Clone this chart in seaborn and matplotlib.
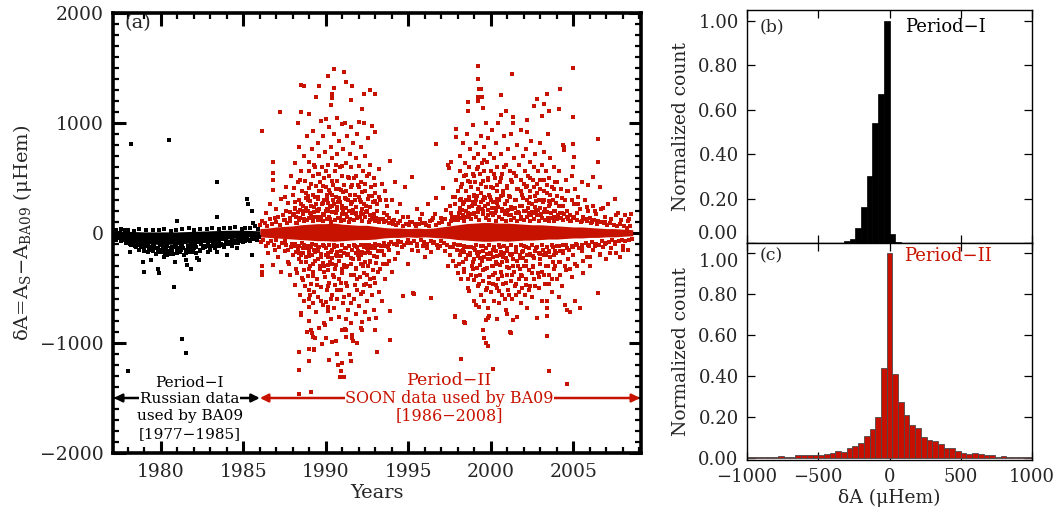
import numpy as np
import pandas as pd
import matplotlib
matplotlib.use("Agg")
import matplotlib.pyplot as plt
from matplotlib.ticker import MultipleLocator
import seaborn as sns

# ---------------- data ----------------
RED = "#c81200"

# Period I (Russian data, black) - scattered points
period1_points = [
    (1978.2, 806), (1980.5, 845), (1983.4, 461), (1983.4, 148), (1985.2, 309), (1981.0, 110),
    (1985.3, 265), (1985.5, 197), (1985.6, 90), (1980.8, -488), (1981.3, -960), (1981.5, -1090),
    (1979.0, -355), (1978.0, -1250), (1978.1, -170), (1978.9, -260), (1979.4, -245), (1979.85, -330),
    (1979.9, -360), (1980.2, -220), (1980.85, -260), (1981.55, -245), (1981.6, -290), (1981.8, -330),
    (1982.2, -230), (1982.3, -245), (1983.4, -170), (1984.0, -200), (1984.6, -140), (1985.5, -200),
    (1977.2, -40), (1977.3, -60), (1977.45, -30), (1977.6, -70), (1977.75, -50), (1977.9, -90),
    (1978.05, -60), (1978.2, -110), (1978.35, -80), (1978.5, -130), (1978.6, -100), (1978.7, -150),
    (1978.85, -120), (1979.0, -140), (1979.1, -100), (1979.2, -170), (1979.35, -130), (1979.5, -160),
    (1979.6, -120), (1979.7, -190), (1979.8, -140), (1980.0, -170), (1980.1, -130), (1980.3, -150),
    (1980.4, -200), (1980.5, -190), (1980.6, -140), (1980.7, -160), (1980.9, -130), (1981.0, -180),
    (1981.1, -140), (1981.2, -150), (1981.3, -120), (1981.4, -200), (1981.5, -150), (1981.7, -170),
    (1981.85, -130), (1982.0, -140), (1982.1, -180), (1982.4, -160), (1982.55, -120), (1982.7, -130),
    (1982.85, -170), (1983.0, -120), (1983.15, -100), (1983.3, -140), (1983.45, -90), (1983.6, -110),
    (1983.8, -130), (1984.0, -100), (1984.15, -80), (1984.3, -120), (1984.5, -70), (1984.7, -90),
    (1984.85, -60), (1985.0, -80), (1985.2, -50), (1985.4, -70), (1985.6, -40), (1985.8, -60),
    (1977.3, 30), (1977.8, 25), (1978.4, 20), (1979.1, 30), (1979.9, 25), (1980.6, 20), (1981.3, 35),
    (1982.0, 30), (1982.8, 35), (1983.5, 40), (1984.2, 45), (1984.9, 40), (1985.4, 50), (1985.9, 40),
]

period1_speckle = [
    (1977.15, -20), (1977.25, -50), (1977.35, -10), (1977.5, -45), (1977.55, 0), (1977.65, -55),
    (1977.7, -20), (1977.85, -65), (1977.95, -30), (1978.0, -80), (1978.1, -40), (1978.15, -100),
    (1978.25, -60), (1978.3, -90), (1978.4, -30), (1978.45, -120), (1978.55, -70), (1978.65, -110),
    (1978.75, -40), (1978.8, -130), (1978.9, -80), (1978.95, -160), (1979.05, -50), (1979.15, -120),
    (1979.25, -90), (1979.3, -150), (1979.4, -60), (1979.45, -130), (1979.55, -100), (1979.65, -140),
    (1979.75, -70), (1979.85, -170), (1979.95, -110), (1980.05, -150), (1980.15, -80), (1980.25, -180),
    (1980.35, -120), (1980.45, -160), (1980.55, -70), (1980.65, -130), (1980.75, -190), (1980.85, -100),
    (1980.95, -150), (1981.05, -90), (1981.15, -170), (1981.25, -110), (1981.35, -140), (1981.45, -80),
    (1981.55, -180), (1981.65, -120), (1981.75, -150), (1981.85, -90), (1981.95, -170), (1982.05, -110),
    (1982.15, -130), (1982.25, -80), (1982.35, -150), (1982.45, -100), (1982.55, -140), (1982.65, -70),
    (1982.75, -120), (1982.85, -100), (1982.95, -150), (1983.05, -70), (1983.1, -120), (1983.2, -90),
    (1983.3, -110), (1983.4, -60), (1983.5, -120), (1983.55, -80), (1983.65, -100), (1983.75, -50),
    (1983.85, -110), (1983.95, -70), (1984.05, -90), (1984.1, -40), (1984.2, -100), (1984.3, -60),
    (1984.4, -80), (1984.45, -30), (1984.55, -90), (1984.65, -50), (1984.75, -70), (1984.8, -20),
    (1984.9, -60), (1985.05, -40), (1985.1, -70), (1985.25, -30), (1985.35, -60), (1985.45, -20),
    (1985.55, -50), (1985.7, -30), (1985.75, -50), (1985.9, -20), (1985.95, -40),
    (1977.6, 40), (1978.0, 30), (1978.7, 35), (1979.5, 30), (1980.2, 40), (1980.9, 30), (1981.7, 45),
    (1982.4, 40), (1983.1, 50), (1983.8, 45), (1984.5, 55), (1985.1, 50), (1985.7, 60),
]

# Period I dense core envelope
core1_years = [1977.1, 1978.0, 1979.0, 1980.0, 1981.0, 1982.0, 1983.0, 1984.0, 1985.0, 1986.0]
core1_lo = [-40, -70, -95, -105, -100, -90, -75, -55, -40, -25]
core1_hi = [20, 15, 10, 10, 10, 15, 20, 25, 25, 20]

# Period II (SOON data, red)
cycle22_pos = [
    (1986.1, 930), (1987.2, 1100), (1986.8, 650), (1986.8, 550), (1986.8, 480), (1986.8, 395),
    (1986.4, 180), (1986.6, 260), (1986.9, 140), (1987.0, 220), (1987.3, 310), (1987.4, 160),
    (1987.6, 420), (1987.7, 270), (1987.8, 190), (1987.9, 520), (1988.0, 350), (1988.1, 230),
    (1988.1, 640), (1988.2, 150), (1988.3, 1000), (1988.3, 460), (1988.35, 300), (1988.4, 780),
    (1988.45, 210), (1988.5, 1350), (1988.5, 1100), (1988.5, 560), (1988.55, 380), (1988.6, 250),
    (1988.65, 130), (1988.7, 1340), (1988.7, 700), (1988.75, 470), (1988.8, 320), (1988.85, 880),
    (1988.9, 200), (1988.95, 560), (1989.0, 1085), (1989.0, 650), (1989.0, 410), (1989.05, 290),
    (1989.1, 170), (1989.15, 760), (1989.2, 520), (1989.2, 350), (1989.25, 930), (1989.3, 240),
    (1989.35, 600), (1989.4, 1236), (1989.4, 430), (1989.45, 150), (1989.5, 820), (1989.5, 310),
    (1989.55, 540), (1989.6, 1336), (1989.6, 700), (1989.6, 220), (1989.65, 460), (1989.7, 1020),
    (1989.7, 380), (1989.75, 600), (1989.8, 270), (1989.85, 880), (1989.9, 500), (1989.9, 160),
    (1989.95, 740), (1990.0, 1040), (1990.0, 420), (1990.05, 310), (1990.1, 1430), (1990.1, 620),
    (1990.15, 200), (1990.2, 960), (1990.2, 520), (1990.25, 360), (1990.3, 1166), (1990.3, 780),
    (1990.35, 250), (1990.4, 1266), (1990.4, 1227), (1990.4, 680), (1990.45, 440), (1990.5, 1490),
    (1990.5, 1318), (1990.5, 900), (1990.55, 560), (1990.6, 330), (1990.6, 180), (1990.65, 1050),
    (1990.7, 720), (1990.7, 470), (1990.75, 280), (1990.8, 840), (1990.85, 600), (1990.9, 390),
    (1990.95, 990), (1991.0, 520), (1991.0, 230), (1991.05, 760), (1991.1, 1467), (1991.1, 440),
    (1991.15, 1000), (1991.2, 640), (1991.25, 1370), (1991.25, 310), (1991.3, 880), (1991.35, 510),
    (1991.4, 200), (1991.45, 720), (1991.5, 1206), (1991.5, 960), (1991.5, 420), (1991.55, 600),
    (1991.6, 1340), (1991.6, 280), (1991.65, 820), (1991.7, 500), (1991.75, 350), (1991.8, 680),
    (1991.85, 170), (1991.9, 900), (1991.95, 440), (1992.0, 1012), (1992.0, 610), (1992.05, 300),
    (1992.1, 780), (1992.15, 460), (1992.2, 1127), (1992.2, 220), (1992.25, 560), (1992.3, 1260),
    (1992.3, 1000), (1992.35, 380), (1992.4, 700), (1992.45, 250), (1992.5, 520), (1992.55, 860),
    (1992.6, 340), (1992.65, 160), (1992.7, 1300), (1992.7, 620), (1992.75, 420), (1992.8, 970),
    (1992.85, 280), (1992.9, 500), (1992.95, 920), (1993.0, 1263), (1993.0, 360), (1993.1, 200),
    (1993.2, 580), (1993.3, 300), (1993.4, 450), (1993.5, 180), (1993.6, 380), (1993.7, 250),
    (1993.8, 140), (1993.9, 657), (1994.0, 300), (1994.2, 467), (1994.3, 190), (1994.5, 260),
    (1994.8, 421), (1995.0, 150), (1995.2, 512), (1995.5, 220), (1995.8, 170), (1996.2, 260),
    (1996.7, 810), (1996.7, 318), (1996.5, 140),
    (1987.5, 120), (1987.6, 200), (1987.8, 110), (1988.0, 160), (1988.1, 280), (1988.2, 90),
    (1988.3, 190), (1988.4, 120), (1988.5, 260), (1988.6, 170), (1988.7, 110), (1988.8, 230),
    (1988.9, 340), (1989.0, 140), (1989.1, 250), (1989.2, 110), (1989.3, 190), (1989.35, 330),
    (1989.4, 260), (1989.5, 120), (1989.55, 200), (1989.6, 380), (1989.7, 150), (1989.75, 260),
    (1989.8, 110), (1989.9, 300), (1990.0, 200), (1990.05, 130), (1990.1, 270), (1990.2, 150),
    (1990.25, 240), (1990.3, 100), (1990.35, 350), (1990.4, 190), (1990.5, 260), (1990.55, 120),
    (1990.6, 400), (1990.7, 210), (1990.75, 140), (1990.8, 320), (1990.9, 110), (1990.95, 250),
    (1991.0, 170), (1991.05, 370), (1991.1, 120), (1991.2, 230), (1991.3, 150), (1991.35, 300),
    (1991.4, 100), (1991.5, 260), (1991.6, 180), (1991.7, 120), (1991.8, 240), (1991.9, 140),
    (1992.0, 330), (1992.1, 180), (1992.2, 110), (1992.3, 260), (1992.4, 150), (1992.5, 200),
    (1992.6, 100), (1992.7, 240), (1992.8, 130), (1992.9, 170), (1993.0, 110), (1993.1, 260),
    (1993.3, 130), (1993.5, 100), (1993.7, 160), (1994.0, 110),
]

cycle22_neg = [
    (1986.1, -300), (1986.1, -355), (1986.1, -385), (1986.8, -294), (1987.3, -355), (1987.8, -385),
    (1988.1, -476), (1986.5, -180), (1986.9, -150), (1987.1, -220), (1987.5, -160), (1987.7, -260),
    (1988.0, -200), (1988.2, -330), (1988.3, -150), (1988.4, -1079), (1988.4, -1245), (1988.4, -1464),
    (1988.45, -560), (1988.5, -745), (1988.5, -730), (1988.5, -260), (1988.55, -410), (1988.6, -180),
    (1988.65, -620), (1988.7, -340), (1988.75, -480), (1988.8, -220), (1988.85, -900), (1988.9, -390),
    (1988.95, -150), (1989.0, -1052), (1989.0, -1167), (1989.0, -797), (1989.0, -670), (1989.0, -597),
    (1989.05, -567), (1989.05, -300), (1989.1, -1442), (1989.1, -882), (1989.1, -460), (1989.15, -912),
    (1989.15, -200), (1989.2, -942), (1989.2, -640), (1989.25, -350), (1989.3, -1052), (1989.3, -1064),
    (1989.3, -540), (1989.35, -955), (1989.35, -250), (1989.4, -720), (1989.45, -420), (1989.5, -160),
    (1989.55, -580), (1989.6, -860), (1989.65, -330), (1989.7, -490), (1989.75, -1010), (1989.8, -270),
    (1989.85, -650), (1989.9, -818), (1989.95, -833), (1989.95, -400), (1990.0, -955), (1990.0, -630),
    (1990.0, -200), (1990.05, -520), (1990.1, -706), (1990.1, -340), (1990.15, -676), (1990.2, -1150),
    (1990.2, -450), (1990.25, -260), (1990.3, -780), (1990.35, -560), (1990.4, -990), (1990.4, -150),
    (1990.45, -380), (1990.5, -680), (1990.55, -470), (1990.6, -985), (1990.6, -290), (1990.65, -1100),
    (1990.7, -600), (1990.7, -210), (1990.75, -1200), (1990.8, -760), (1990.8, -420), (1990.85, -1306),
    (1990.9, -1250), (1990.9, -520), (1990.95, -330), (1991.0, -1180), (1991.0, -880), (1991.05, -640),
    (1991.1, -1306), (1991.1, -180), (1991.15, -870), (1991.2, -779), (1991.2, -882), (1991.2, -450),
    (1991.25, -942), (1991.3, -300), (1991.35, -700), (1991.4, -560), (1991.45, -1097), (1991.5, -1160),
    (1991.5, -380), (1991.55, -820), (1991.6, -927), (1991.6, -958), (1991.62, -985), (1991.65, -240),
    (1991.7, -600), (1991.75, -470), (1991.8, -740), (1991.85, -330), (1991.9, -1000), (1991.9, -520),
    (1991.95, -200), (1992.0, -660), (1992.05, -400), (1992.1, -860), (1992.15, -280), (1992.2, -806),
    (1992.2, -882), (1992.25, -540), (1992.3, -360), (1992.35, -720), (1992.4, -180), (1992.45, -460),
    (1992.5, -620), (1992.55, -300), (1992.6, -780), (1992.65, -420), (1992.7, -250), (1992.8, -560),
    (1992.85, -340), (1992.9, -700), (1993.0, -882), (1993.0, -450), (1993.05, -773), (1993.1, -1079),
    (1993.1, -220), (1993.2, -540), (1993.3, -330), (1993.4, -620), (1993.5, -200), (1993.6, -420),
    (1993.7, -280), (1993.8, -150), (1993.9, -709), (1993.9, -970), (1994.0, -350), (1994.2, -240),
    (1994.4, -180), (1994.7, -576), (1995.0, -280), (1995.3, -542), (1995.35, -558), (1995.6, -160),
    (1996.0, -220), (1996.4, -594), (1996.4, -173), (1996.8, -140),
    (1987.6, -110), (1987.9, -130), (1988.1, -100), (1988.2, -170), (1988.4, -120), (1988.5, -200),
    (1988.6, -140), (1988.7, -110), (1988.8, -260), (1988.9, -120), (1989.0, -180), (1989.1, -130),
    (1989.2, -280), (1989.3, -150), (1989.4, -110), (1989.5, -240), (1989.6, -130), (1989.7, -190),
    (1989.8, -110), (1989.9, -300), (1990.0, -140), (1990.1, -220), (1990.2, -110), (1990.3, -170),
    (1990.4, -280), (1990.5, -130), (1990.6, -200), (1990.7, -120), (1990.8, -250), (1990.9, -160),
    (1991.0, -110), (1991.1, -290), (1991.2, -140), (1991.3, -200), (1991.4, -120), (1991.5, -230),
    (1991.6, -150), (1991.7, -110), (1991.8, -180), (1991.9, -130), (1992.0, -240), (1992.1, -110),
    (1992.2, -170), (1992.3, -130), (1992.4, -260), (1992.5, -140), (1992.6, -110), (1992.7, -180),
    (1992.8, -120), (1992.9, -210), (1993.0, -140), (1993.2, -110), (1993.4, -160), (1993.6, -120),
    (1993.8, -100),
]

mid22 = [
    (1987.55, 330), (1987.75, -280), (1988.05, 410), (1988.25, -360), (1988.45, 480), (1988.6, -430),
    (1988.8, 360), (1988.95, -520), (1989.1, 450), (1989.2, -390), (1989.3, 620), (1989.45, -470),
    (1989.6, 540), (1989.7, -620), (1989.8, 430), (1989.9, -350), (1990.0, 560), (1990.1, -480),
    (1990.2, 390), (1990.3, -600), (1990.4, 470), (1990.5, -400), (1990.6, 620), (1990.7, -520),
    (1990.8, 400), (1990.9, -450), (1991.0, 610), (1991.1, -580), (1991.2, 380), (1991.3, -480),
    (1991.4, 500), (1991.5, -640), (1991.6, 440), (1991.7, -380), (1991.8, 520), (1991.9, -420),
    (1992.0, 420), (1992.1, -550), (1992.2, 370), (1992.3, -470), (1992.4, 450), (1992.5, -380),
    (1992.6, 540), (1992.7, -480), (1992.8, 340), (1992.9, -410), (1993.0, 440), (1993.15, -350),
    (1993.25, 330), (1993.45, -280), (1993.65, 300), (1993.85, -250),
    (1988.15, 220), (1988.35, -240), (1988.9, 300), (1989.0, -330), (1989.55, 330), (1989.65, -300),
    (1990.05, 350), (1990.15, -290), (1990.45, 300), (1990.55, -330), (1990.85, 280), (1990.95, -360),
    (1991.15, 320), (1991.25, -310), (1991.45, 350), (1991.55, -280), (1991.75, 300), (1991.85, -320),
    (1992.15, 280), (1992.25, -300), (1992.55, 310), (1992.65, -260), (1992.95, 290), (1993.05, -270),
]

minimum_points = [
    (1994.1, 120), (1994.3, -110), (1994.4, 90), (1994.6, -130), (1994.7, 150), (1994.9, -90),
    (1995.1, 100), (1995.2, -150), (1995.4, 80), (1995.5, -100), (1995.7, 130), (1995.9, -120),
    (1996.0, 90), (1996.1, -140), (1996.3, 110), (1996.5, -90), (1996.6, 170), (1996.9, -120),
    (1997.0, 140), (1997.1, 406), (1997.2, -160), (1997.3, 210), (1997.4, 620), (1997.45, 591),
    (1997.6, 645), (1997.4, -300), (1997.5, -200), (1997.5, 250), (1997.7, -130), (1997.8, -767),
    (1997.85, -755), (1997.9, 945), (1997.9, 870),
]

cycle23_pos = [
    (1997.6, 180), (1997.7, 330), (1997.8, 260), (1997.9, 480), (1998.0, 150), (1998.0, 380),
    (1998.1, 560), (1998.1, 230), (1998.15, 700), (1998.2, 310), (1998.25, 450), (1998.3, 160),
    (1998.3, 820), (1998.35, 520), (1998.4, 280), (1998.45, 640), (1998.5, 380), (1998.5, 200),
    (1998.55, 900), (1998.6, 1188), (1998.6, 1112), (1998.6, 470), (1998.65, 300), (1998.7, 600),
    (1998.7, 150), (1998.75, 760), (1998.8, 420), (1998.85, 250), (1998.9, 540), (1998.9, 980),
    (1998.95, 340), (1999.0, 680), (1999.0, 180), (1999.05, 460), (1999.1, 820), (1999.1, 300),
    (1999.15, 580), (1999.2, 1521), (1999.2, 1400), (1999.22, 1239), (1999.2, 400), (1999.25, 1200),
    (1999.25, 720), (1999.3, 1309), (1999.3, 240), (1999.35, 540), (1999.4, 1312), (1999.4, 880),
    (1999.4, 360), (1999.45, 1239), (1999.45, 640), (1999.5, 1133), (1999.5, 470), (1999.55, 200),
    (1999.6, 780), (1999.6, 560), (1999.65, 320), (1999.7, 1000), (1999.7, 420), (1999.75, 650),
    (1999.8, 260), (1999.85, 860), (1999.85, 500), (1999.9, 350), (1999.95, 720), (2000.0, 180),
    (2000.0, 560), (2000.05, 940), (2000.1, 410), (2000.15, 280), (2000.2, 680), (2000.25, 500),
    (2000.3, 820), (2000.3, 200), (2000.35, 380), (2000.4, 600), (2000.45, 1000), (2000.5, 300),
    (2000.55, 460), (2000.6, 1255), (2000.6, 1073), (2000.6, 720), (2000.65, 220), (2000.7, 540),
    (2000.75, 380), (2000.8, 880), (2000.85, 260), (2000.9, 1109), (2000.9, 620), (2000.95, 430),
    (2001.0, 180), (2001.05, 760), (2001.1, 340), (2001.15, 560), (2001.2, 240), (2001.25, 900),
    (2001.3, 1442), (2001.3, 460), (2001.35, 1000), (2001.37, 1055), (2001.4, 680), (2001.45, 300),
    (2001.5, 520), (2001.55, 180), (2001.6, 800), (2001.65, 400), (2001.7, 620), (2001.75, 250),
    (2001.8, 480), (2001.85, 940), (2001.9, 350), (2001.95, 700), (2002.0, 200), (2002.05, 560),
    (2002.1, 420), (2002.15, 760), (2002.2, 1027), (2002.2, 915), (2002.2, 300), (2002.25, 520),
    (2002.3, 180), (2002.35, 650), (2002.4, 380), (2002.45, 840), (2002.5, 260), (2002.55, 480),
    (2002.6, 1152), (2002.6, 600), (2002.65, 340), (2002.7, 720), (2002.75, 200), (2002.8, 1215),
    (2002.8, 450), (2002.85, 560), (2002.9, 300), (2002.95, 820), (2003.0, 400), (2003.05, 160),
    (2003.1, 1064), (2003.1, 620), (2003.15, 280), (2003.2, 1176), (2003.2, 480), (2003.25, 740),
    (2003.3, 220), (2003.35, 560), (2003.4, 1260), (2003.4, 360), (2003.45, 900), (2003.5, 1112),
    (2003.5, 250), (2003.55, 500), (2003.6, 680), (2003.65, 180), (2003.7, 420), (2003.75, 300),
    (2003.8, 600), (2003.85, 200), (2003.9, 460), (2004.0, 340), (2004.1, 1124), (2004.1, 560),
    (2004.15, 250), (2004.2, 1309), (2004.25, 400), (2004.3, 180), (2004.4, 797), (2004.42, 780),
    (2004.45, 751), (2004.5, 300), (2004.55, 480), (2004.6, 200), (2004.7, 380), (2004.8, 160),
    (2004.9, 520), (2004.95, 1497), (2005.0, 1051), (2005.0, 809), (2005.02, 690), (2005.0, 600),
    (2005.05, 260), (2005.1, 400), (2005.2, 180), (2005.3, 330), (2005.4, 220), (2005.5, 460),
    (2005.6, 150), (2005.7, 300), (2005.9, 436), (2005.9, 200), (2006.0, 140), (2006.2, 512),
    (2006.2, 250), (2006.4, 170), (2006.5, 852), (2006.5, 648), (2006.6, 421), (2006.7, 220),
    (2006.9, 150), (2007.1, 260), (2007.3, 130), (2007.5, 309), (2007.7, 180), (2007.9, 120),
    (2008.1, 160), (2008.3, 110), (2008.5, 173),
    (1997.6, 110), (1997.8, 150), (1998.0, 120), (1998.1, 190), (1998.2, 140), (1998.3, 260),
    (1998.4, 110), (1998.5, 300), (1998.6, 180), (1998.7, 240), (1998.8, 130), (1998.9, 280),
    (1999.0, 350), (1999.1, 150), (1999.2, 220), (1999.3, 120), (1999.4, 280), (1999.5, 170),
    (1999.6, 330), (1999.7, 140), (1999.8, 210), (1999.9, 120), (2000.0, 300), (2000.1, 160),
    (2000.2, 230), (2000.3, 110), (2000.4, 270), (2000.5, 150), (2000.6, 340), (2000.7, 130),
    (2000.8, 200), (2000.9, 110), (2001.0, 290), (2001.1, 160), (2001.2, 120), (2001.3, 220),
    (2001.4, 140), (2001.5, 300), (2001.6, 110), (2001.7, 180), (2001.8, 130), (2001.9, 250),
    (2002.0, 120), (2002.1, 200), (2002.2, 150), (2002.3, 270), (2002.4, 110), (2002.5, 190),
    (2002.6, 130), (2002.7, 240), (2002.8, 160), (2002.9, 110), (2003.0, 230), (2003.1, 140),
    (2003.2, 300), (2003.3, 120), (2003.4, 190), (2003.5, 110), (2003.6, 260), (2003.7, 140),
    (2003.8, 110), (2003.9, 200), (2004.0, 130), (2004.2, 180), (2004.4, 120), (2004.6, 150),
    (2004.8, 110), (2005.0, 140), (2005.2, 120), (2005.5, 110), (2005.8, 130), (2006.1, 100),
    (2006.5, 110), (2006.9, 100),
]

cycle23_neg = [
    (1997.9, -300), (1998.0, -360), (1998.1, -200), (1998.2, -1148), (1998.2, -420), (1998.3, -150),
    (1998.4, -812), (1998.45, -818), (1998.4, -330), (1998.5, -240), (1998.6, -500), (1998.7, -530),
    (1998.75, -180), (1998.8, -380), (1998.9, -260), (1999.0, -430), (1999.0, -615), (1999.05, -150),
    (1999.1, -650), (1999.15, -320), (1999.2, -480), (1999.25, -210), (1999.3, -673), (1999.35, -380),
    (1999.4, -560), (1999.45, -250), (1999.5, -885), (1999.5, -440), (1999.55, -160), (1999.6, -950),
    (1999.6, -620), (1999.65, -330), (1999.7, -790), (1999.7, -1000), (1999.75, -500), (1999.8, -770),
    (1999.8, -240), (1999.85, -1024), (1999.85, -680), (1999.9, -755), (1999.9, -400), (1999.95, -180),
    (2000.0, -540), (2000.05, -300), (2000.1, -1236), (2000.1, -460), (2000.15, -220), (2000.2, -620),
    (2000.25, -360), (2000.3, -160), (2000.35, -500), (2000.4, -785), (2000.4, -280), (2000.45, -420),
    (2000.5, -640), (2000.55, -200), (2000.6, -350), (2000.65, -560), (2000.7, -260), (2000.75, -460),
    (2000.8, -180), (2000.85, -600), (2000.9, -700), (2000.95, -740), (2000.95, -380), (2001.0, -250),
    (2001.05, -520), (2001.1, -320), (2001.15, -900), (2001.2, -905), (2001.2, -440), (2001.25, -200),
    (2001.3, -600), (2001.35, -790), (2001.4, -350), (2001.45, -480), (2001.5, -170), (2001.55, -560),
    (2001.6, -760), (2001.65, -300), (2001.7, -420), (2001.75, -230), (2001.8, -640), (2001.85, -380),
    (2001.9, -500), (2001.95, -160), (2002.0, -300), (2002.05, -560), (2002.1, -420), (2002.15, -250),
    (2002.2, -680), (2002.3, -340), (2002.35, -480), (2002.4, -200), (2002.5, -580), (2002.55, -300),
    (2002.6, -420), (2002.7, -160), (2002.8, -773), (2002.85, -360), (2002.9, -500), (2003.0, -240),
    (2003.1, -620), (2003.2, -380), (2003.3, -180), (2003.4, -933), (2003.4, -615), (2003.42, -680),
    (2003.4, -755), (2003.45, -300), (2003.5, -1252), (2003.5, -460), (2003.6, -220), (2003.7, -540),
    (2003.8, -330), (2003.9, -160), (2004.0, -420), (2004.1, -585), (2004.2, -260), (2004.3, -480),
    (2004.4, -180), (2004.5, -650), (2004.55, -340), (2004.6, -1373), (2004.6, -700), (2004.7, -240),
    (2004.8, -718), (2004.9, -400), (2005.0, -200), (2005.1, -620), (2005.2, -300), (2005.4, -680),
    (2005.5, -160), (2005.6, -360), (2005.8, -220), (2006.0, -300), (2006.2, -150), (2006.5, -545),
    (2006.6, -200), (2006.8, -130), (2007.0, -240), (2007.3, -140), (2007.6, -180), (2007.8, -221),
    (2008.0, -120), (2008.3, -150),
    (1998.0, -110), (1998.2, -160), (1998.4, -120), (1998.6, -200), (1998.8, -130), (1999.0, -240),
    (1999.1, -110), (1999.3, -170), (1999.4, -120), (1999.6, -220), (1999.7, -140), (1999.9, -110),
    (2000.0, -190), (2000.2, -130), (2000.3, -260), (2000.5, -110), (2000.6, -170), (2000.8, -120),
    (2000.9, -230), (2001.0, -140), (2001.2, -110), (2001.3, -190), (2001.5, -130), (2001.6, -250),
    (2001.8, -110), (2001.9, -170), (2002.0, -120), (2002.2, -200), (2002.3, -140), (2002.5, -110),
    (2002.6, -230), (2002.8, -130), (2002.9, -180), (2003.1, -110), (2003.2, -200), (2003.4, -130),
    (2003.5, -160), (2003.7, -110), (2003.8, -200), (2004.0, -120), (2004.2, -160), (2004.4, -110),
    (2004.6, -140), (2004.9, -120), (2005.2, -110), (2005.5, -130), (2005.9, -110), (2006.3, -120),
    (2006.9, -100), (2007.5, -100),
]

mid23 = [
    (1997.7, -250), (1997.85, 330), (1998.05, -280), (1998.2, 420), (1998.35, -350), (1998.5, 530),
    (1998.6, -420), (1998.75, 460), (1998.85, -300), (1999.0, 520), (1999.1, -390), (1999.2, 600),
    (1999.3, -460), (1999.4, 450), (1999.5, -340), (1999.6, 660), (1999.7, -520), (1999.8, 480),
    (1999.9, -450), (2000.0, 420), (2000.1, -380), (2000.2, 540), (2000.3, -470), (2000.4, 440),
    (2000.5, -530), (2000.6, 500), (2000.7, -390), (2000.8, 600), (2000.9, -450), (2001.0, 410),
    (2001.1, -560), (2001.2, 480), (2001.3, -380), (2001.4, 550), (2001.5, -460), (2001.6, 400),
    (2001.7, -540), (2001.8, 380), (2001.9, -390), (2002.0, 450), (2002.1, -470), (2002.2, 430),
    (2002.3, -520), (2002.4, 500), (2002.5, -360), (2002.6, 420), (2002.7, -480), (2002.8, 360),
    (2002.9, -400), (2003.0, 480), (2003.1, -350), (2003.2, 380), (2003.3, -460), (2003.4, 440),
    (2003.5, -380), (2003.6, 350), (2003.7, -420), (2003.8, 400), (2003.9, -300), (2004.0, 460),
    (2004.2, -380), (2004.3, 320), (2004.5, -300), (2004.6, 380), (2004.8, -330), (2004.9, 300),
    (2005.1, -280), (2005.3, 260), (2005.6, -250), (2005.8, 240), (2006.0, -220), (2006.3, 200),
    (2006.6, -190), (2006.8, 230), (2007.2, -180), (2007.6, 160), (2008.0, -150), (2008.4, 130),
    (1998.1, 300), (1998.3, -260), (1998.7, 330), (1998.9, -330), (1999.15, 340), (1999.35, -290),
    (1999.55, 300), (1999.75, -320), (1999.95, 330), (2000.15, -300), (2000.35, 310), (2000.55, -290),
    (2000.75, 350), (2000.95, -310), (2001.15, 330), (2001.35, -300), (2001.55, 300), (2001.75, -330),
    (2001.95, 320), (2002.15, -300), (2002.35, 330), (2002.55, -310), (2002.75, 290), (2002.95, -280),
    (2003.15, 300), (2003.35, -300), (2003.55, 290), (2003.75, -260), (2003.95, 270), (2004.15, -260),
    (2004.35, 250), (2004.65, -240),
]

period2_speckle = [
    (1986.0, 70), (1986.05, -80), (1986.15, 110), (1986.2, -60), (1986.3, 90), (1986.35, -120),
    (1986.45, 60), (1986.5, -90), (1986.6, 130), (1986.7, -70), (1986.75, 80), (1986.85, -110),
    (1986.95, 100), (1987.0, -60), (1987.1, 150), (1987.15, -130), (1987.25, 70), (1987.35, -90),
    (1987.45, 120), (1987.5, -70), (1987.65, 90), (1987.7, -150), (1987.85, 140), (1987.95, -100),
    (1988.05, 170), (1988.15, -120), (1988.25, 90), (1988.35, -180), (1988.45, 140), (1988.55, -90),
    (1988.65, 200), (1988.75, -140), (1988.85, 120), (1988.95, -210), (1989.05, 180), (1989.15, -100),
    (1989.25, 150), (1989.35, -170), (1989.45, 210), (1989.5, -130), (1989.65, 120), (1989.7, -220),
    (1989.85, 170), (1989.9, -120), (1990.05, 220), (1990.15, -180), (1990.25, 130), (1990.35, -230),
    (1990.45, 190), (1990.5, -110), (1990.65, 240), (1990.7, -170), (1990.85, 140), (1990.9, -210),
    (1991.05, 200), (1991.15, -140), (1991.25, 170), (1991.35, -190), (1991.45, 130), (1991.55, -230),
    (1991.65, 210), (1991.75, -120), (1991.85, 180), (1991.95, -160), (1992.05, 150), (1992.15, -200),
    (1992.25, 170), (1992.35, -110), (1992.45, 190), (1992.55, -170), (1992.65, 120), (1992.75, -140),
    (1992.85, 160), (1992.95, -100), (1993.05, 140), (1993.15, -160), (1993.25, 100), (1993.35, -120),
    (1993.45, 130), (1993.55, -90), (1993.65, 110), (1993.75, -130), (1993.85, 90), (1993.95, -80),
    (1994.05, 80), (1994.15, -100), (1994.25, 70), (1994.35, -70), (1994.5, 110), (1994.55, -80),
    (1994.65, 60), (1994.75, -110), (1994.85, 80), (1994.95, -60), (1995.05, 70), (1995.15, -90),
    (1995.25, 100), (1995.35, -70), (1995.45, 60), (1995.55, -120), (1995.65, 80), (1995.75, -60),
    (1995.85, 90), (1995.95, -80), (1996.05, 70), (1996.15, -100), (1996.25, 60), (1996.35, -70),
    (1996.45, 120), (1996.55, -80), (1996.65, 70), (1996.75, -110), (1996.85, 90), (1996.95, -70),
    (1997.05, 100), (1997.15, -90), (1997.25, 130), (1997.35, -110), (1997.45, 80), (1997.55, -130),
    (1997.65, 150), (1997.75, -100), (1997.85, 120), (1997.95, -150), (1998.05, 180), (1998.15, -110),
    (1998.25, 210), (1998.35, -170), (1998.45, 150), (1998.55, -130), (1998.65, 240), (1998.75, -200),
    (1998.85, 170), (1998.95, -140), (1999.05, 260), (1999.15, -180), (1999.25, 190), (1999.35, -230),
    (1999.45, 220), (1999.55, -120), (1999.65, 250), (1999.75, -190), (1999.85, 160), (1999.95, -240),
    (2000.05, 230), (2000.15, -150), (2000.25, 180), (2000.35, -210), (2000.45, 240), (2000.55, -130),
    (2000.65, 200), (2000.75, -220), (2000.85, 170), (2000.95, -160), (2001.05, 210), (2001.15, -190),
    (2001.25, 160), (2001.35, -240), (2001.45, 230), (2001.55, -140), (2001.65, 190), (2001.75, -200),
    (2001.85, 150), (2001.95, -230), (2002.05, 200), (2002.15, -130), (2002.25, 230), (2002.35, -190),
    (2002.45, 160), (2002.55, -210), (2002.65, 180), (2002.75, -140), (2002.85, 210), (2002.95, -190),
    (2003.05, 170), (2003.15, -150), (2003.25, 190), (2003.35, -200), (2003.45, 140), (2003.55, -170),
    (2003.65, 180), (2003.75, -130), (2003.85, 150), (2003.95, -180), (2004.05, 160), (2004.15, -120),
    (2004.25, 140), (2004.35, -160), (2004.45, 170), (2004.55, -110), (2004.65, 130), (2004.75, -150),
    (2004.85, 110), (2004.95, -130), (2005.05, 150), (2005.15, -100), (2005.25, 120), (2005.35, -140),
    (2005.45, 100), (2005.55, -110), (2005.65, 130), (2005.75, -90), (2005.85, 110), (2005.95, -120),
    (2006.05, 90), (2006.15, -80), (2006.25, 120), (2006.35, -100), (2006.45, 80), (2006.55, -110),
    (2006.65, 100), (2006.75, -70), (2006.85, 90), (2006.95, -90), (2007.05, 70), (2007.15, -80),
    (2007.25, 90), (2007.35, -60), (2007.45, 70), (2007.55, -80), (2007.65, 60), (2007.75, -70),
    (2007.85, 80), (2007.95, -60), (2008.05, 60), (2008.15, -70), (2008.25, 50), (2008.35, -60),
    (2008.45, 60), (2008.55, -50),
]

# Period II dense core envelope
core2_years = [1986.0, 1986.5, 1987.0, 1987.5, 1988.0, 1988.5, 1989.0, 1989.5, 1990.0, 1990.5,
               1991.0, 1991.5, 1992.0, 1992.5, 1993.0, 1993.5, 1994.0, 1994.5, 1995.0, 1995.5,
               1996.0, 1996.5, 1997.0, 1997.5, 1998.0, 1998.5, 1999.0, 1999.5, 2000.0, 2000.5,
               2001.0, 2001.5, 2002.0, 2002.5, 2003.0, 2003.5, 2004.0, 2004.5, 2005.0, 2005.5,
               2006.0, 2006.5, 2007.0, 2007.5, 2008.0, 2008.6]
core2_lo = [-35, -40, -45, -50, -55, -60, -65, -70, -70, -75, -70, -65, -60, -60, -55, -45,
            -40, -40, -35, -40, -35, -40, -45, -50, -60, -65, -70, -75, -75, -70, -75, -70,
            -65, -65, -60, -55, -55, -50, -45, -45, -40, -40, -35, -35, -30, -25]
core2_hi = [40, 45, 55, 60, 65, 75, 80, 85, 85, 90, 80, 75, 70, 70, 60, 50, 45, 45, 40, 45,
            40, 45, 55, 65, 75, 85, 90, 95, 95, 90, 90, 85, 80, 75, 75, 70, 65, 60, 55, 55,
            50, 45, 40, 40, 35, 30]

# Histograms (normalized counts)
hist1_centers = [-340, -300, -260, -220, -180, -140, -100, -60, -20, 20, 60]
hist1_heights = [0.002, 0.007, 0.02, 0.066, 0.16, 0.30, 0.54, 0.67, 1.00, 0.04, 0.005]

hist2_centers = [-1000, -960, -920, -880, -840, -800, -760, -720, -680, -640, -600, -560, -520,
                 -480, -440, -400, -360, -320, -280, -240, -200, -160, -120, -80, -40, 0,
                 40, 80, 120, 160, 200, 240, 280, 320, 360, 400, 440, 480, 520, 560, 600,
                 640, 680, 720, 760, 800, 840, 880, 920, 960, 1000]
hist2_heights = [0.003, 0.004, 0.003, 0.004, 0.004, 0.005, 0.010, 0.006, 0.004, 0.012, 0.012,
                 0.013, 0.015, 0.016, 0.018, 0.022, 0.032, 0.030, 0.047, 0.060, 0.075, 0.107,
                 0.143, 0.200, 0.440, 1.000,
                 0.410, 0.275, 0.210, 0.160, 0.145, 0.100, 0.090, 0.085, 0.070, 0.050, 0.050,
                 0.035, 0.026, 0.018, 0.022, 0.020, 0.013, 0.013, 0.007, 0.009, 0.006, 0.005,
                 0.006, 0.004, 0.003]

year_ticks = [1980, 1985, 1990, 1995, 2000, 2005]
da_ticks = [-2000, -1000, 0, 1000, 2000]
count_ticks = [0.0, 0.2, 0.4, 0.6, 0.8, 1.0]
hist_xticks = [-1000, -500, 0, 500, 1000]

# ---------------- styling ----------------
sns.set_theme(style="ticks")
plt.rcParams["font.family"] = ["DejaVu Serif"]
plt.rcParams["mathtext.fontset"] = "dejavuserif"
plt.rcParams["axes.unicode_minus"] = True

W, H = 1059, 515
fig = plt.figure(figsize=(W / 100, H / 100), dpi=100)
fig.patch.set_facecolor("white")


def frac(left, top, right, bottom):
    return [left / W, 1 - bottom / H, (right - left) / W, (bottom - top) / H]


# ---------------- panel (a) ----------------
ax = fig.add_axes(frac(113, 13, 641, 453))

ax.fill_between(core1_years, core1_lo, core1_hi, color="black", lw=0, zorder=1)
ax.fill_between(core2_years, core2_lo, core2_hi, color=RED, lw=0, zorder=1)

p1 = pd.DataFrame(period1_points + period1_speckle, columns=["year", "dA"])
p2 = pd.DataFrame(cycle22_pos + cycle22_neg + mid22 + minimum_points + cycle23_pos
                  + cycle23_neg + mid23 + period2_speckle, columns=["year", "dA"])
sns.scatterplot(data=p2, x="year", y="dA", ax=ax, color=RED, s=6.5, marker="s",
                linewidth=0, zorder=2, legend=False)
sns.scatterplot(data=p1, x="year", y="dA", ax=ax, color="black", s=6.5, marker="s",
                linewidth=0, zorder=2, legend=False)

ax.set_xlim(1977.1, 2009.1)
ax.set_ylim(-2000, 2000)
ax.set_xticks(year_ticks)
ax.set_yticks(da_ticks)
ax.xaxis.set_minor_locator(MultipleLocator(1))
ax.yaxis.set_minor_locator(MultipleLocator(100))
ax.tick_params(which="both", direction="in", top=True, right=True, labelsize=13.5, color="black")
ax.tick_params(which="major", length=9, width=2.2, pad=7)
ax.tick_params(which="minor", length=4.5, width=1.6)
for sp in ax.spines.values():
    sp.set_linewidth(2.6)
    sp.set_color("black")
ax.set_xlabel("Years", fontsize=14, labelpad=2)
ax.set_ylabel(r"δA=A$_{\rm S}$$-$A$_{\rm BA09}$ (μHem)", fontsize=14, labelpad=4)
ax.text(1977.8, 1905, "(a)", fontsize=14, va="center", ha="left")

# arrows & annotations
arrow_y = -1500
ax.annotate("", xy=(1977.15, arrow_y), xytext=(1986.0, arrow_y),
            arrowprops=dict(arrowstyle="<|-|>", color="black", lw=1.8,
                            mutation_scale=12, shrinkA=0, shrinkB=0), zorder=3)
ax.annotate("", xy=(1986.0, arrow_y), xytext=(2009.05, arrow_y),
            arrowprops=dict(arrowstyle="<|-|>", color=RED, lw=1.8,
                            mutation_scale=12, shrinkA=0, shrinkB=0), zorder=3)
bb = dict(facecolor="white", edgecolor="none", pad=0.5)
ax.text(1981.75, -1360, "Period−I", fontsize=11, ha="center", va="center", color="black", zorder=4)
ax.text(1981.75, -1510, "Russian data", fontsize=11, ha="center", va="center", color="black",
        bbox=bb, zorder=4)
ax.text(1981.75, -1665, "used by BA09", fontsize=11, ha="center", va="center", color="black", zorder=4)
ax.text(1981.75, -1830, "[1977−1985]", fontsize=11, ha="center", va="center", color="black", zorder=4)
ax.text(1997.5, -1345, "Period−II", fontsize=12.5, ha="center", va="center", color=RED, zorder=4)
ax.text(1997.5, -1505, "SOON data used by BA09", fontsize=11.5, ha="center", va="center",
        color=RED, bbox=bb, zorder=4)
ax.text(1997.5, -1660, "[1986−2008]", fontsize=11.5, ha="center", va="center", color=RED, zorder=4)

# ---------------- panels (b) and (c) ----------------
axb = fig.add_axes(frac(747, 10, 1032, 243))
axc = fig.add_axes(frac(747, 243, 1032, 460))

edges1 = [c - 20 for c in hist1_centers] + [hist1_centers[-1] + 20]
edges2 = [c - 20 for c in hist2_centers] + [hist2_centers[-1] + 20]

sns.histplot(x=hist1_centers, weights=hist1_heights, bins=edges1, ax=axb,
             color="black", edgecolor="black", linewidth=0.5, alpha=1)
sns.histplot(x=hist2_centers, weights=hist2_heights, bins=edges2, ax=axc,
             color="#c81000", edgecolor="#4a4a4a", linewidth=0.6, alpha=1)

for a in (axb, axc):
    a.set_xlim(-1000, 1000)
    a.set_xticks(hist_xticks)
    a.set_yticks(count_ticks)
    a.set_yticklabels([f"{t:.2f}" for t in count_ticks])
    a.tick_params(direction="in", top=True, right=True, length=6, width=0.9,
                  labelsize=13, color="black", pad=6)
    for sp in a.spines.values():
        sp.set_linewidth(1.0)
        sp.set_color("black")
    a.set_ylabel("Normalized count", fontsize=13.5, labelpad=6)

axb.set_ylim(0, 1.05)
axc.set_ylim(-0.01, 1.05)
axb.set_xlabel("")
axb.tick_params(labelbottom=False)
axc.set_xlabel("δA (μHem)", fontsize=13.5, labelpad=2)
# keep the touching 0.00 / 1.00 labels of the stacked panels apart
axb.get_yticklabels()[0].set_va("bottom")
axc.get_yticklabels()[-1].set_va("top")

axb.text(-910, 0.975, "(b)", fontsize=12.5, ha="left", va="center")
axb.text(390, 0.975, "Period−I", fontsize=13, ha="center", va="center", color="black")
axc.text(-910, 0.985, "(c)", fontsize=12.5, ha="left", va="center")
axc.text(410, 0.985, "Period−II", fontsize=13, ha="center", va="center", color=RED)

fig.savefig("out.png", dpi=100, facecolor="white")
